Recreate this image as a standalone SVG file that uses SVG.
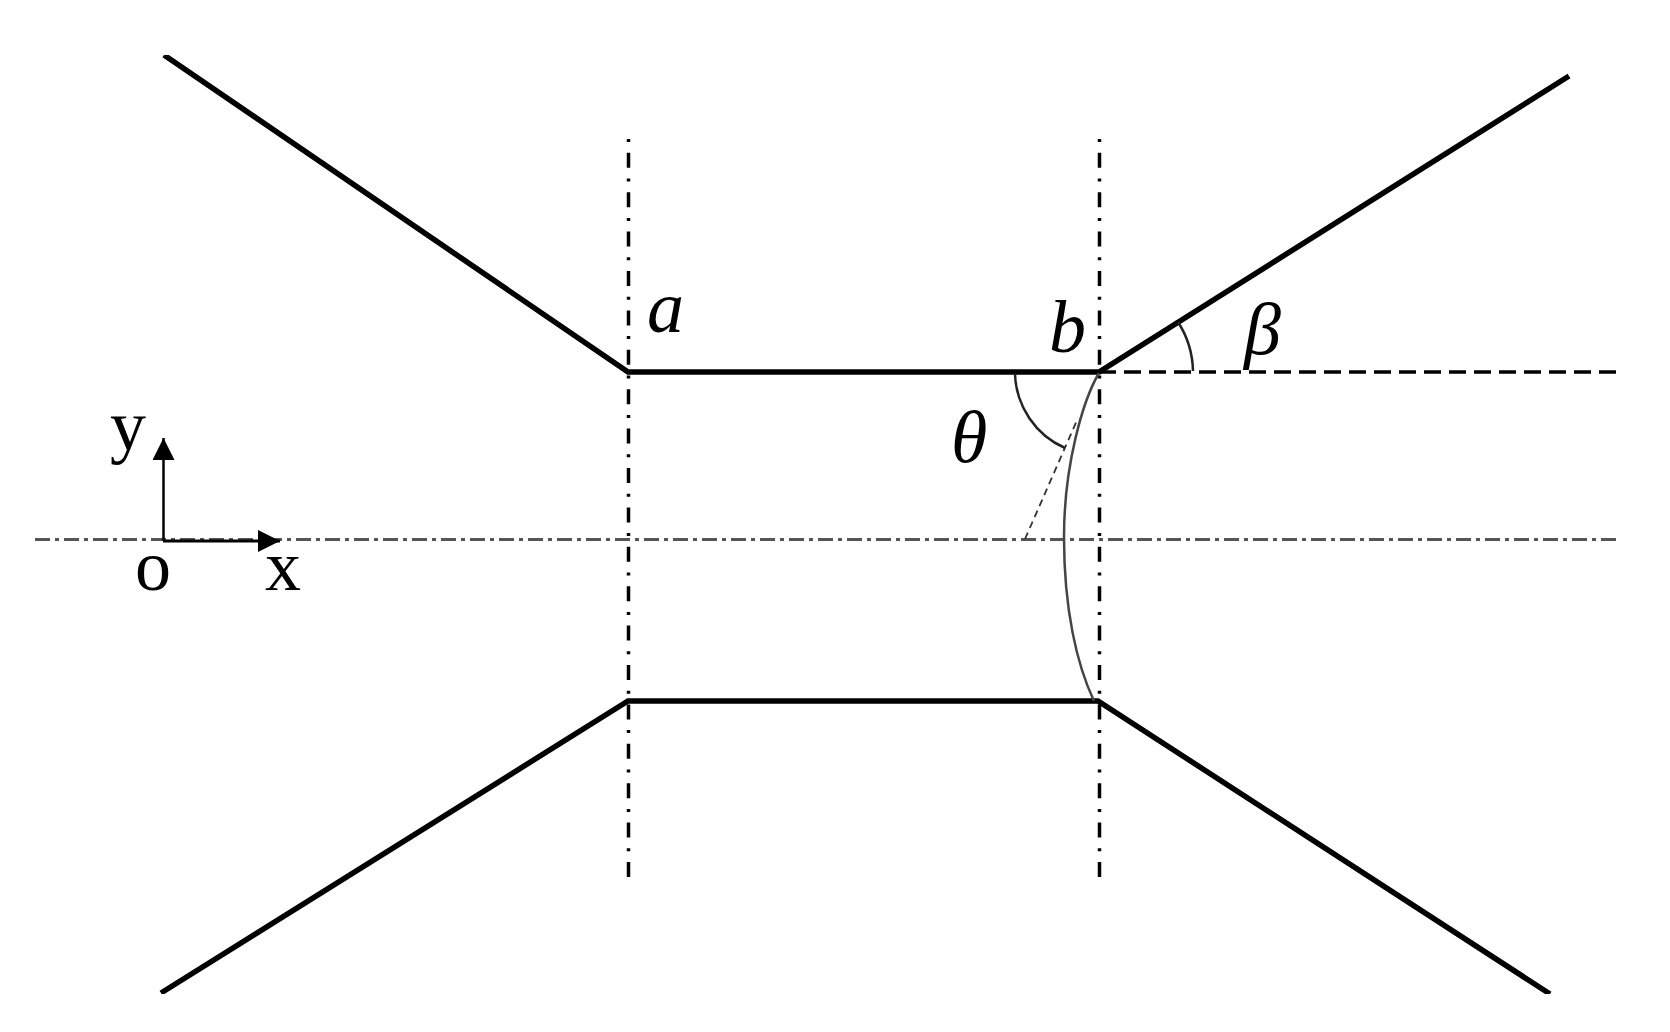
<svg xmlns="http://www.w3.org/2000/svg" width="1670" height="1032" viewBox="0 0 1670 1032">
<style>
.wall{fill:none;stroke:#000;stroke-width:5.5}
.ref{fill:none;stroke:#000;stroke-width:3.500;stroke-dasharray:15 10.700 3 10.700}
.axis{fill:none;stroke:#555;stroke-width:3;stroke-dasharray:15 5 4 5}
.thin{fill:none;stroke:#222;stroke-width:2.500}
.t{font-family:"Liberation Serif","Times New Roman",serif;fill:#000}
.i{font-style:italic;font-size:74px}
.u{font-size:72px}
</style>
<defs>
<marker id="head" markerUnits="userSpaceOnUse" markerWidth="24" markerHeight="24" refX="22" refY="11" orient="auto"><path d="M0 0L22 11L0 22Z" fill="#000"/></marker>
<filter id="soft" x="0" y="0" width="100%" height="100%"><feGaussianBlur stdDeviation="0.7"/></filter>
</defs>
<rect width="1670" height="1032" fill="#fff"/>
<g filter="url(#soft)">
<g id="connectors">
<path class="axis" d="M35 539.500H1617"/>
<path class="ref" d="M628.500 877V139"/>
<path class="ref" d="M1099.500 877V139"/>
<path class="wall" d="M164 55L628 372H1099L1569 76"/>
<path class="wall" d="M161 993L628 701H1098L1550 994"/>
<path fill="none" stroke="#000" stroke-width="3.500" stroke-dasharray="17 8" d="M1099 372H1617"/>
<path fill="none" stroke="#444" stroke-width="2.500" d="M1099 373C1083 400 1064 465 1064 537C1064 610 1077 665 1094 701"/>
<path fill="none" stroke="#333" stroke-width="1.800" stroke-dasharray="7 5" d="M1025 539L1078 418"/>
<path class="thin" d="M1015 374A84 84 0 0 0 1065 448"/>
<path class="thin" d="M1178 322A94 94 0 0 1 1193 371"/>
<path fill="none" stroke="#000" stroke-width="2.500" marker-end="url(#head)" d="M163.500 541V438"/>
<path fill="none" stroke="#000" stroke-width="3" marker-end="url(#head)" d="M163 541H280"/>
</g>
<g id="labels">
<text class="t i" x="647" y="332">a</text>
<text class="t i" x="1049" y="352">b</text>
<text class="t i" x="951" y="462">θ</text>
<text class="t i" x="1244" y="354">β</text>
<text class="t u" x="110" y="450">y</text>
<text class="t u" x="135" y="590">o</text>
<text class="t u" x="265" y="590">x</text>
</g>
</g>
</svg>
